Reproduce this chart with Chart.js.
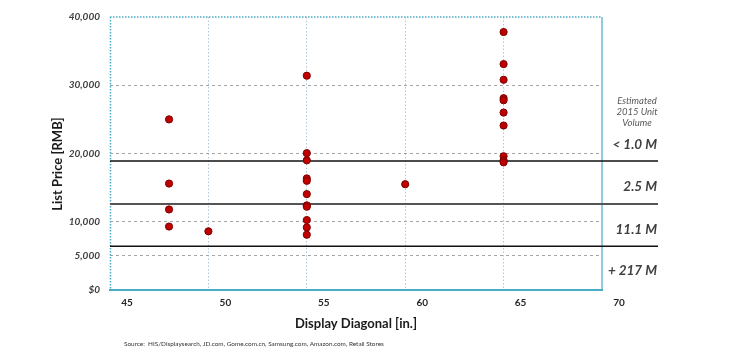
<!DOCTYPE html>
<html>
<head>
<meta charset="utf-8">
<script src="https://cdn.jsdelivr.net/npm/chart.js@4/dist/chart.umd.min.js"></script>
<style>
  html, body { margin: 0; padding: 0; background: #ffffff; }
  #wrap { width: 740px; height: 355px; }
</style>
</head>
<body>
<div id="wrap"><canvas id="c" width="740" height="355"></canvas></div>
<script>
// ---- data ----
const sizes48 = [48, 48, 48, 48];
const prices48 = [25000, 15600, 11800, 9300];
const sizes50 = [50];
const prices50 = [8600];
const sizes55 = [55, 55, 55, 55, 55, 55, 55, 55, 55, 55, 55];
const prices55 = [31400, 20050, 19000, 16350, 16000, 14050, 12400, 12200, 10250, 9170, 8100];
const sizes60 = [60];
const prices60 = [15500];
const sizes65 = [65, 65, 65, 65, 65, 65, 65, 65, 65, 65];
const prices65 = [37800, 33100, 30800, 28100, 27800, 26000, 24100, 19600, 19000, 18700];

const yTickValues = [0, 5000, 10000, 20000, 30000, 40000];
const xTickValues = [45, 50, 55, 60, 65, 70];

const thresholdValues = [18900, 12600, 6400];
const volumeLabels = ['< 1.0 M', '2.5 M', '11.1 M', '+ 217 M'];
const volumeHeader = ['Estimated', '2015 Unit', 'Volume'];
const sourceText = 'Source:  HIS/Displaysearch, JD.com, Gome.com.cn, Samsung.com, Amazon.com, Retail Stores';
const xTitle = 'Display Diagonal [in.]';
const yTitle = 'List Price [RMB]';

// ---- build points ----
const allSizes = [].concat(sizes48, sizes50, sizes55, sizes60, sizes65);
const allPrices = [].concat(prices48, prices50, prices55, prices60, prices65);
const points = allSizes.map((s, i) => ({ x: s, y: allPrices[i] }));

const FONT = 'Lato, "Open Sans", "Liberation Sans", sans-serif';

const decor = {
  id: 'decor',
  beforeDatasetsDraw(chart) {
    const { ctx, chartArea: a, scales } = chart;
    const ys = scales.y;
    ctx.save();
    ctx.strokeStyle = '#4bacc6';
    ctx.lineWidth = 1.5;
    ctx.setLineDash([1.5, 1.5]);
    ctx.beginPath();
    ctx.moveTo(a.left, a.top); ctx.lineTo(a.right, a.top);
    ctx.moveTo(a.left + 0.5, a.top); ctx.lineTo(a.left + 0.5, a.bottom);
    ctx.stroke();
    ctx.setLineDash([]);
    ctx.lineWidth = 1.2;
    ctx.beginPath();
    ctx.moveTo(a.right, a.top); ctx.lineTo(a.right, a.bottom);
    ctx.stroke();
    const colors = ['#111111', '#555555', '#111111'];
    const widths = [1.5, 2.2, 1.5];
    thresholdValues.forEach((v, i) => {
      const y = ys.getPixelForValue(v);
      ctx.strokeStyle = colors[i];
      ctx.lineWidth = widths[i];
      ctx.beginPath();
      ctx.moveTo(a.left, y); ctx.lineTo(658, y);
      ctx.stroke();
    });
    ctx.restore();
  },
  afterDraw(chart) {
    const { ctx } = chart;
    ctx.save();
    ctx.fillStyle = '#595959';
    ctx.font = 'italic 9.5px ' + FONT;
    ctx.textAlign = 'center';
    ctx.textBaseline = 'middle';
    volumeHeader.forEach((t, i) => ctx.fillText(t, 637, 101 + i * 11));
    ctx.fillStyle = '#404040';
    ctx.font = 'italic bold 13.5px ' + FONT;
    ctx.textAlign = 'right';
    const ly = [145, 187, 230, 271];
    volumeLabels.forEach((t, i) => ctx.fillText(t, 657, ly[i]));
    ctx.save();
    ctx.translate(58, 164);
    ctx.rotate(-Math.PI / 2);
    ctx.fillStyle = '#1a1a1a';
    ctx.font = 'bold 13px ' + FONT;
    ctx.textAlign = 'center';
    ctx.fillText(yTitle, 0, 0);
    ctx.restore();
    ctx.fillStyle = '#333333';
    ctx.font = '6.4px ' + FONT;
    ctx.textAlign = 'left';
    ctx.fillText(sourceText, 124, 344);
    ctx.restore();
  }
};

new Chart(document.getElementById('c'), {
  type: 'scatter',
  data: {
    datasets: [{
      data: points,
      backgroundColor: '#c00000',
      borderColor: '#7a0000',
      borderWidth: 1,
      pointRadius: 3.6,
      pointHoverRadius: 3.6
    }]
  },
  plugins: [decor],
  options: {
    responsive: false,
    animation: false,
    events: [],
    layout: { padding: { left: 0, right: 138, top: 17, bottom: 0 } },
    plugins: { legend: { display: false }, tooltip: { enabled: false } },
    scales: {
      x: {
        type: 'linear',
        min: 45, max: 70,
        afterBuildTicks: s => { s.ticks = xTickValues.map(v => ({ value: v })); },
        afterFit: s => { s.height = 65; },
        ticks: {
          labelOffset: 17,
          padding: 7,
          color: '#262626',
          font: { family: FONT, size: 10, weight: 'bold' }
        },
        grid: {
          drawTicks: false,
          lineWidth: 1,
          color: c => (c.tick && (c.tick.value === 45 || c.tick.value === 70)) ? 'rgba(0,0,0,0)' : '#b3c6d6'
        },
        border: { display: true, color: '#4bacc6', width: 2, dash: [1.5, 2] },
        title: {
          display: true,
          text: xTitle,
          color: '#1a1a1a',
          font: { family: FONT, size: 13, weight: 'bold' },
          padding: { top: 0, bottom: 23 }
        }
      },
      y: {
        type: 'linear',
        min: 0, max: 40000,
        afterBuildTicks: s => { s.ticks = yTickValues.map(v => ({ value: v })); },
        afterFit: s => { s.width = 110; },
        ticks: {
          padding: 10,
          color: '#3f3f3f',
          font: { family: FONT, size: 10, weight: 'bold', style: 'italic' },
          callback: v => v === 0 ? '$0' : Number(v).toLocaleString('en-US')
        },
        grid: {
          drawTicks: false,
          lineWidth: 1,
          color: c => (c.tick && (c.tick.value === 0 || c.tick.value === 40000)) ? 'rgba(0,0,0,0)' : '#a6a6a6'
        },
        border: { display: false, dash: [3, 3] }
      }
    }
  }
});
</script>
</body>
</html>
